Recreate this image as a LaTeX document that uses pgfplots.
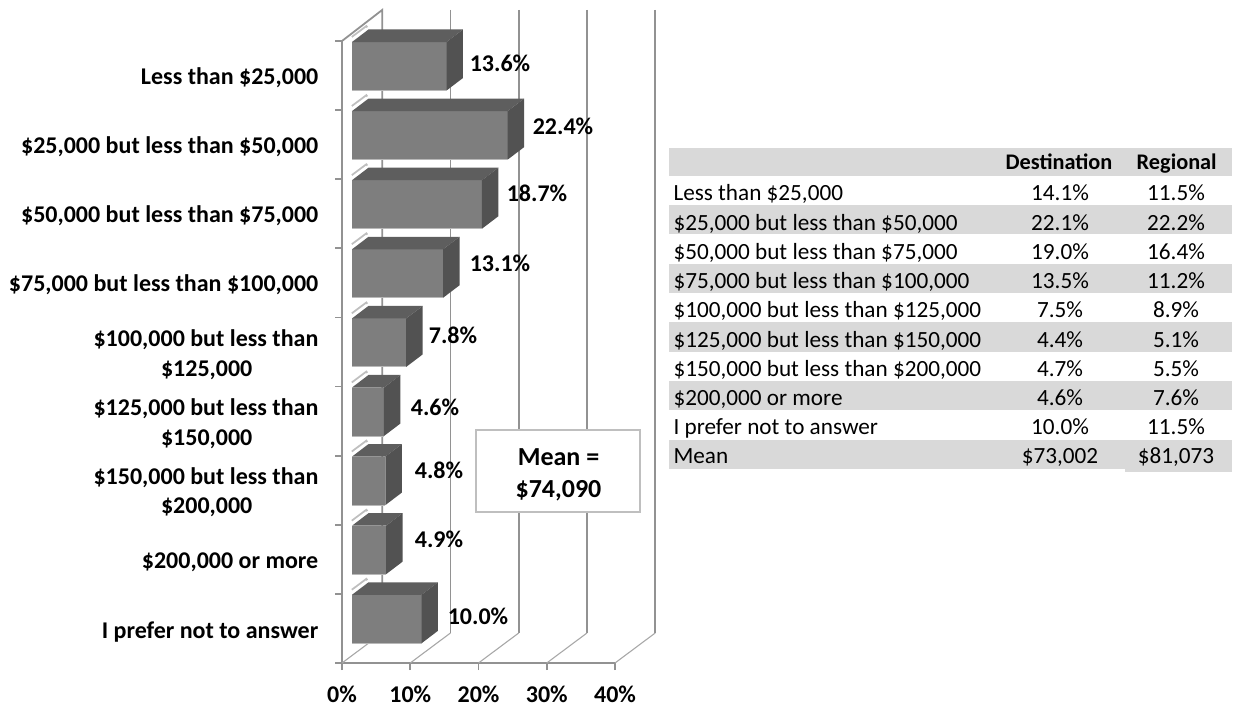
\documentclass[border=0pt]{standalone}
\usepackage{pgfplots}
\pgfplotsset{compat=1.18}
\usepackage{fontspec}
\setmainfont{Carlito}
\definecolor{gridc}{HTML}{929292}
\definecolor{floorc}{HTML}{A8A8A8}
\definecolor{frontc}{HTML}{7E7E7E}
\definecolor{sidec}{HTML}{525252}
\definecolor{topc}{HTML}{5E5E5E}
\definecolor{stripe}{HTML}{D9D9D9}
\definecolor{boxc}{HTML}{BFBFBF}
\newcommand\lab[4][east]{\node[anchor=base #1,inner sep=0pt,font=\fontsize{24bp}{28bp}\selectfont\bfseries] at (#2bp,{(706-#3)*1bp}) {#4};}
\newcommand\val[3]{\node[anchor=base,inner sep=0pt,font=\fontsize{24bp}{28bp}\selectfont\bfseries] at (#1bp,{(706-#2)*1bp}) {#3};}
\newcommand\tbl[2]{\node[anchor=base west,inner sep=0pt,font=\fontsize{23.2bp}{27bp}\selectfont] at (673.3bp,{(706-#1)*1bp}) {#2};}
\newcommand\tcol[3]{\node[anchor=base,inner sep=0pt,font=\fontsize{23.2bp}{27bp}\selectfont] at (1060bp,{(706-#1)*1bp}) {#2};\node[anchor=base,inner sep=0pt,font=\fontsize{23.2bp}{27bp}\selectfont] at (1176bp,{(706-#1)*1bp}) {#3};}
\newcommand\barfaces[2]{%
  \pgfmathsetmacro\yA{#1-0.351}\pgfmathsetmacro\yB{#1+0.351}%
  \pgfmathsetmacro\yC{#1-0.351-0.181}\pgfmathsetmacro\yD{#1+0.351-0.181}%
  \pgfmathsetmacro\xB{#2+2.37}%
  \addplot[fill=topc,draw=none] coordinates {(0,\yA) (2.37,\yC) (\xB,\yC) (#2,\yA)} --cycle;
  \addplot[fill=sidec,draw=none] coordinates {(#2,\yA) (\xB,\yC) (\xB,\yD) (#2,\yB)} --cycle;
  \addplot[draw=black!28,line width=1bp] coordinates {(0,\yB) (#2,\yB)};
}
\newcommand\streak[1]{%
  \pgfmathsetmacro\yA{#1-0.372}\pgfmathsetmacro\yC{#1-0.372-0.165}%
  \pgfmathsetmacro\yE{#1-0.42}\pgfmathsetmacro\yF{#1-0.42-0.165}%
  \addplot[draw=black!25,line width=2.5bp] coordinates {(0,\yE) (2.2,\yF)};
  \addplot[draw=white,line width=4bp] coordinates {(0,\yA) (2.2,\yC)};
}
\begin{document}
\begin{tikzpicture}[x=1bp,y=1bp]
\path[use as bounding box] (0,0) rectangle (1235bp,706bp);
% frame
\begin{axis}[
  at={(342bp,43bp)},anchor=south west,scale only axis,
  width=273bp,height=622bp,
  xmin=0,xmax=40,ymin=0,ymax=9,clip=false,
  axis x line=bottom,axis y line=left,
  axis line style={draw=gridc,line width=1.8bp,-},
  tick style={draw=gridc,line width=1.8bp},
  tick align=outside,major tick length=7bp,
  xtick={0,10,20,30,40},
  xticklabels={0\%,10\%,20\%,30\%,40\%},
  xticklabel style={font=\fontsize{24bp}{28bp}\selectfont\bfseries,yshift=-12bp},
  ytick={0,1,...,9},yticklabels={},
]
\addplot[draw=gridc,line width=1.8bp] coordinates {(0,9) (5.89,9.449) (5.89,0.434)};
\addplot[draw=gridc,line width=1.8bp] coordinates {(15.89,9.449) (15.89,0.434)};
\addplot[draw=gridc,line width=1.8bp] coordinates {(25.89,9.449) (25.89,0.434)};
\addplot[draw=gridc,line width=1.8bp] coordinates {(35.89,9.449) (35.89,0.434)};
\addplot[draw=gridc,line width=1.8bp] coordinates {(45.89,9.449) (45.89,0.434)};
\addplot[draw=floorc,line width=1.1bp] coordinates {(0,0) (5.89,0.434)};
\addplot[draw=floorc,line width=1.1bp] coordinates {(10,0) (15.89,0.434)};
\addplot[draw=floorc,line width=1.1bp] coordinates {(20,0) (25.89,0.434)};
\addplot[draw=floorc,line width=1.1bp] coordinates {(30,0) (35.89,0.434)};
\addplot[draw=floorc,line width=1.1bp] coordinates {(40,0) (45.89,0.434)};
\end{axis}
% bars
\begin{axis}[
  at={(352bp,{(706-31.7)*1bp})},anchor=north west,scale only axis,
  width=278bp,height=621.9bp,
  xmin=0,xmax=40,ymin=-0.5,ymax=8.5,y dir=reverse,clip=false,
  axis lines=none,
]
\streak{0}\streak{1}\streak{2}\streak{3}\streak{4}\streak{5}\streak{6}\streak{7}\streak{8}
\addplot[fill=frontc,draw=none] coordinates {(0,-0.351) (13.6,-0.351) (13.6,0.351) (0,0.351)} --cycle;
\addplot[fill=frontc,draw=none] coordinates {(0,0.649) (22.4,0.649) (22.4,1.351) (0,1.351)} --cycle;
\addplot[fill=frontc,draw=none] coordinates {(0,1.649) (18.7,1.649) (18.7,2.351) (0,2.351)} --cycle;
\addplot[fill=frontc,draw=none] coordinates {(0,2.649) (13.1,2.649) (13.1,3.351) (0,3.351)} --cycle;
\addplot[fill=frontc,draw=none] coordinates {(0,3.649) (7.8,3.649) (7.8,4.351) (0,4.351)} --cycle;
\addplot[fill=frontc,draw=none] coordinates {(0,4.649) (4.6,4.649) (4.6,5.351) (0,5.351)} --cycle;
\addplot[fill=frontc,draw=none] coordinates {(0,5.649) (4.8,5.649) (4.8,6.351) (0,6.351)} --cycle;
\addplot[fill=frontc,draw=none] coordinates {(0,6.649) (4.9,6.649) (4.9,7.351) (0,7.351)} --cycle;
\addplot[fill=frontc,draw=none] coordinates {(0,7.649) (10.0,7.649) (10.0,8.351) (0,8.351)} --cycle;
\barfaces{0}{13.6}\barfaces{1}{22.4}\barfaces{2}{18.7}\barfaces{3}{13.1}\barfaces{4}{7.8}\barfaces{5}{4.6}\barfaces{6}{4.8}\barfaces{7}{4.9}\barfaces{8}{10.0}
\end{axis}
% category labels
\lab{318.5}{84.3}{Less than \$25,000}
\lab{318.5}{153.3}{\$25,000 but less than \$50,000}
\lab{318.5}{222.3}{\$50,000 but less than \$75,000}
\lab{318.5}{291.3}{\$75,000 but less than \$100,000}
\lab{318.5}{346}{\$100,000 but less than}
\lab[]{206.7}{376}{\$125,000}
\lab{318.5}{415}{\$125,000 but less than}
\lab[]{206.7}{445}{\$150,000}
\lab{318.5}{484}{\$150,000 but less than}
\lab[]{206.7}{513.3}{\$200,000}
\lab{318.5}{568.3}{\$200,000 or more}
\lab{318.5}{638}{I prefer not to answer}
% values
\val{500}{71.7}{13.6\%}
\val{563}{135}{22.4\%}
\val{537}{201.7}{18.7\%}
\val{500}{272}{13.1\%}
\val{453}{343}{7.8\%}
\val{435}{415}{4.6\%}
\val{439}{478}{4.8\%}
\val{439}{547}{4.9\%}
\val{478}{624}{10.0\%}
% mean box
\draw[draw=boxc,line width=2bp,fill=white] (476bp,{(706-430.5)*1bp}) rectangle (640bp,{(706-512.5)*1bp});
\node[anchor=base,inner sep=0pt,font=\fontsize{26bp}{30bp}\selectfont\bfseries] at (558.5bp,{(706-465)*1bp}) {Mean =};
\node[anchor=base,inner sep=0pt,font=\fontsize{26bp}{30bp}\selectfont\bfseries] at (558.5bp,{(706-497.7)*1bp}) {\$74,090};
% table
\fill[stripe] (669bp,{(706-148)*1bp}) rectangle (1232bp,{(706-176)*1bp});
\fill[stripe] (669bp,{(706-205)*1bp}) rectangle (1232bp,{(706-234)*1bp});
\fill[stripe] (669bp,{(706-264)*1bp}) rectangle (1232bp,{(706-292.7)*1bp});
\fill[stripe] (669bp,{(706-322)*1bp}) rectangle (1232bp,{(706-352)*1bp});
\fill[stripe] (669bp,{(706-381)*1bp}) rectangle (1232bp,{(706-410)*1bp});
\fill[stripe] (669bp,{(706-440)*1bp}) rectangle (1232bp,{(706-468.7)*1bp});
\fill[stripe] (1125bp,{(706-468)*1bp}) rectangle (1232bp,{(706-471.7)*1bp});
\node[anchor=base,inner sep=0pt,font=\fontsize{22.3bp}{26bp}\selectfont\bfseries] at (1059bp,{(706-170)*1bp}) {Destination};
\node[anchor=base,inner sep=0pt,font=\fontsize{22.3bp}{26bp}\selectfont\bfseries] at (1176.7bp,{(706-170)*1bp}) {Regional};
\tbl{201}{Less than \$25,000}\tcol{201}{14.1\%}{11.5\%}
\tbl{230.2}{\$25,000 but less than \$50,000}\tcol{230.2}{22.1\%}{22.2\%}
\tbl{259.4}{\$50,000 but less than \$75,000}\tcol{259.4}{19.0\%}{16.4\%}
\tbl{288.6}{\$75,000 but less than \$100,000}\tcol{288.6}{13.5\%}{11.2\%}
\tbl{317.8}{\$100,000 but less than \$125,000}\tcol{317.8}{7.5\%}{8.9\%}
\tbl{347}{\$125,000 but less than \$150,000}\tcol{347}{4.4\%}{5.1\%}
\tbl{376.2}{\$150,000 but less than \$200,000}\tcol{376.2}{4.7\%}{5.5\%}
\tbl{405.4}{\$200,000 or more}\tcol{405.4}{4.6\%}{7.6\%}
\tbl{434.6}{I prefer not to answer}\tcol{434.6}{10.0\%}{11.5\%}
\tbl{463.8}{Mean}\tcol{463.8}{\$73,002}{\$81,073}
\end{tikzpicture}
\end{document}
